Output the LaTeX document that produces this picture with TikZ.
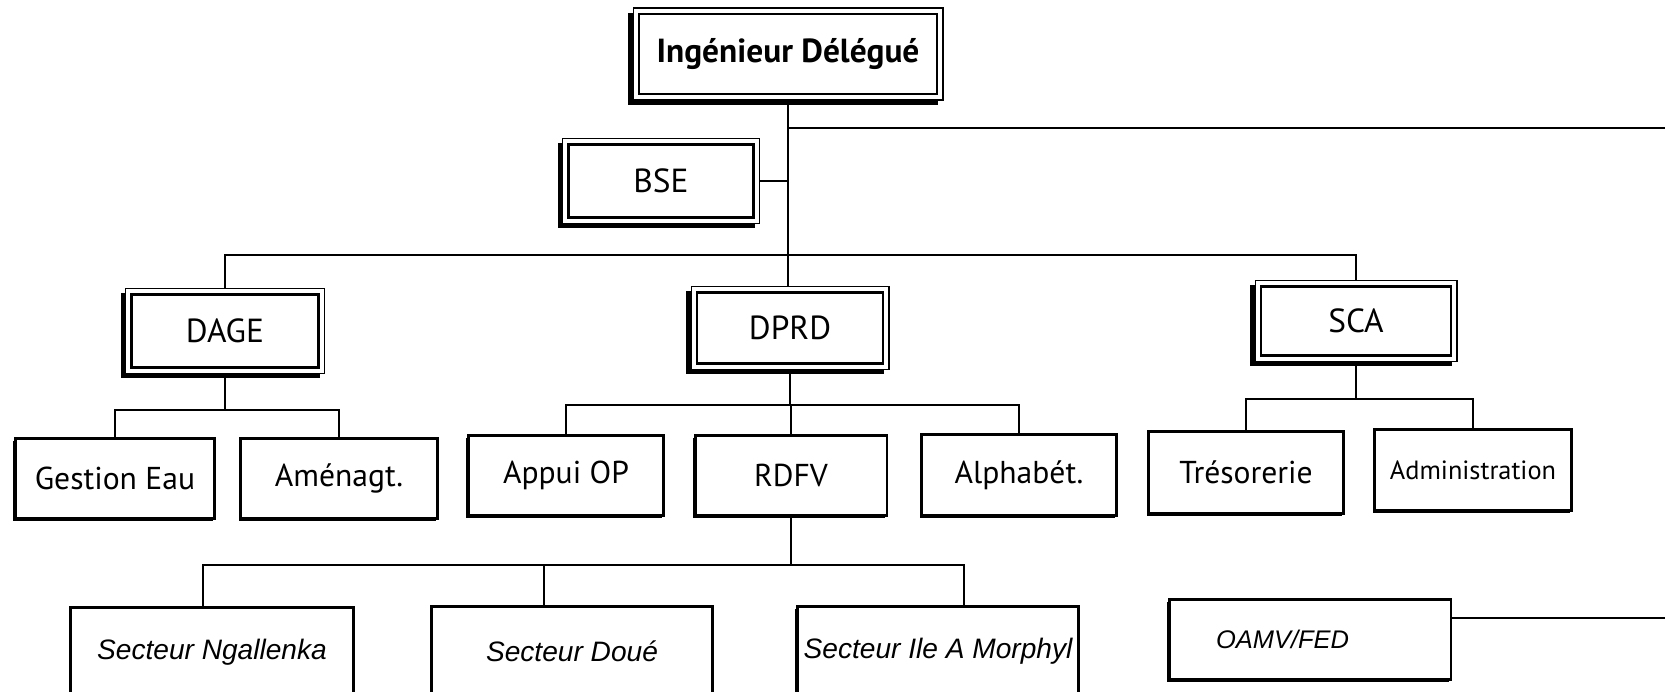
\documentclass[tikz,border=0pt]{standalone}
\usepackage{fontspec}
\setmainfont{PT Sans}
\newfontfamily\secfont{Liberation Sans}
\usetikzlibrary{positioning,calc,shadows}

\tikzset{
  topbox/.style={draw, line width=0.6pt, fill=white,
    general shadow={fill=black, shadow xshift=-2.6pt, shadow yshift=-2.6pt},
    path picture={\draw[line width=1.5pt]
      ([shift={(3.4pt,3.4pt)}]path picture bounding box.south west) rectangle
      ([shift={(-3.4pt,-3.4pt)}]path picture bounding box.north east);},
    inner sep=0pt, font=\fontsize{19}{22}\selectfont},
  unitbox/.style={draw, line width=1.7pt, fill=white,
    general shadow={fill=black, shadow xshift=-0.9pt, shadow yshift=-1.6pt},
    inner sep=0pt, font=\fontsize{18}{21}\selectfont},
  sectbox/.style={unitbox, font=\secfont\itshape\fontsize{16}{19}\selectfont},
  link/.style={line width=1pt}
}

\begin{document}
\begin{tikzpicture}[x=0.02cm, y=-0.02cm]
\useasboundingbox (0,0) rectangle (1665,691);

% ================= DIRECTION =================
\node[topbox, minimum width=6.2cm, minimum height=1.84cm,
  font=\bfseries\fontsize{19}{22}\selectfont] (chef) at (788,54) {Ingénieur Délégué};
\node[topbox, minimum width=3.95cm, minimum height=1.7cm] (bse) at (661,181) {BSE};

% ================= DIRECTIONS & SERVICE =================
\node[topbox, minimum width=3.98cm, minimum height=1.7cm] (dage) at (225,331) {DAGE};
\node[topbox, minimum width=3.96cm, minimum height=1.66cm] (dprd) at (790,328) {DPRD};
\node[topbox, minimum width=4.04cm, minimum height=1.62cm] (sca) at (1356,321) {SCA};

% ================= UNITES =================
\node[unitbox, minimum width=4.0cm, minimum height=1.6cm] (gestion) at (115,478) {Gestion Eau};
\node[unitbox, minimum width=3.94cm, minimum height=1.6cm] (amenag) at (339,478) {Aménagt.};
\node[unitbox, minimum width=3.92cm, minimum height=1.6cm] (appui) at (566,475) {Appui OP};
\node[unitbox, minimum width=3.84cm, minimum height=1.6cm] (rdfv) at (791,475) {RDFV};
\node[unitbox, minimum width=3.9cm, minimum height=1.62cm] (alpha) at (1019,475) {Alphabét.};
\node[unitbox, minimum width=3.9cm, minimum height=1.64cm] (treso) at (1246,472) {Trésorerie};
\node[unitbox, minimum width=3.94cm, minimum height=1.62cm,
  font=\fontsize{15}{18}\selectfont] (admin) at (1473,470) {Administration};

% ================= SECTEURS =================
\node[sectbox, minimum width=5.66cm, minimum height=1.8cm] (ngal) at (212,652) {Secteur Ngallenka};
\node[sectbox, minimum width=5.62cm, minimum height=1.8cm] (doue) at (572,651) {Secteur Doué};
\node[sectbox, minimum width=5.64cm, minimum height=1.8cm] (morph) at (938,651) {Secteur Ile A Morphyl};
\node[sectbox, minimum width=5.64cm, minimum height=1.6cm,
  font=\secfont\itshape\fontsize{14.5}{17}\selectfont] (oamv) at (1310,639) {OAMV/FED\hspace*{1.1cm}};

% ================= LIAISONS =================
\coordinate (rtop) at (1665,128);
\coordinate (rbot) at (1665,618);
\coordinate (bar1) at (0,255);
\coordinate (bar2) at (0,410);
\coordinate (bar3) at (0,405);
\coordinate (bar4) at (0,399);
\coordinate (bar5) at (0,565);

\draw[link] (chef.south) -- (chef.south |- dprd.north);
\draw[link] (chef.south |- rtop) -- (rtop);
\draw[link] (bse.east) -- (bse.east -| chef.south);
\draw[link] (dage.north) |- (sca.north |- bar1) -- (sca.north);

\draw[link] (dage.south) -- (dage.south |- bar2);
\draw[link] (gestion.north) |- (amenag.north |- bar2) -- (amenag.north);

\draw[link] (dprd.south) -- (dprd.south |- bar3);
\draw[link] (appui.north) |- (alpha.north |- bar3) -- (alpha.north);
\draw[link] (rdfv.north) -- (rdfv.north |- bar3);

\draw[link] (sca.south) -- (sca.south |- bar4);
\draw[link] (treso.north) |- (admin.north |- bar4) -- (admin.north);

\draw[link] (rdfv.south) -- (rdfv.south |- bar5);
\draw[link] ($(ngal.north)+(-9,0)$) |- ($(morph.north |- bar5)+(26,0)$) -- ($(morph.north)+(26,0)$);
\draw[link] ($(doue.north)+(-28,0)$) -- ($(doue.north |- bar5)+(-28,0)$);

\draw[link] ($(oamv.east)+(0,-21)$) -- (rbot);

\end{tikzpicture}
\end{document}
